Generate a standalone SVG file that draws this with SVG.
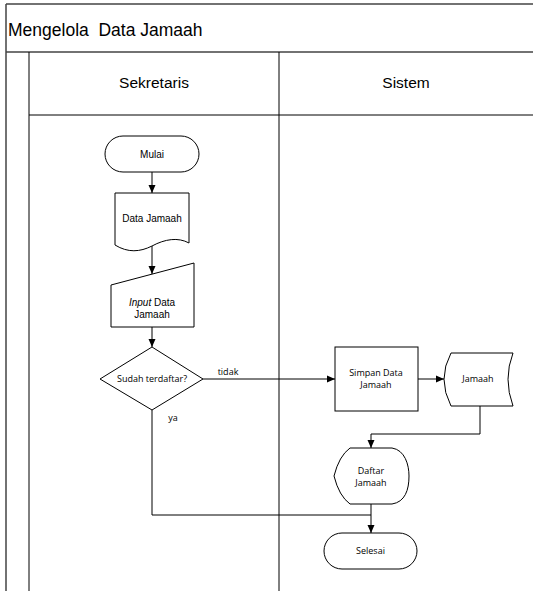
<svg xmlns="http://www.w3.org/2000/svg" width="533" height="591" viewBox="0 0 533 591">
<style>
.frame{stroke:#444;stroke-width:1.5;fill:none}
.lane{stroke:#000;stroke-width:1;fill:none}
.shape{fill:#fff;stroke:#000;stroke-width:1}
.conn{stroke:#000;stroke-width:1;fill:none}
.ta{font-family:"Liberation Sans",Arial,sans-serif;font-size:10px;fill:#000;text-anchor:middle}
.to{font-family:"Open Sans","Noto Sans",sans-serif;font-size:9px;fill:#000;text-anchor:middle}
.hd{font-family:"Liberation Sans",Arial,sans-serif;font-size:15.5px;fill:#000;text-anchor:middle}
</style>
<defs>
<marker id="arr" markerUnits="userSpaceOnUse" markerWidth="8" markerHeight="8" refX="8" refY="4" orient="auto">
<path d="M0,0.5 L8,4 L0,7.5 Z" fill="#000"/>
</marker>
</defs>
<rect width="533" height="591" fill="#fff"/>
<g id="pool">
<path class="frame" d="M6,4 H533 M6,4 V591 M6,52 H533"/>
<path class="lane" d="M29,52 V591 M29,115 H533 M279,52 V591"/>
<text x="8" y="36" font-family="Liberation Sans, Arial, sans-serif" font-size="17.5" fill="#000" xml:space="preserve">Mengelola  Data Jamaah</text>
<text class="hd" x="154" y="88">Sekretaris</text>
<text class="hd" x="406" y="88">Sistem</text>
</g>
<g id="connectors">
<path class="conn" d="M152,172 V193" marker-end="url(#arr)"/>
<path class="conn" d="M152,246 V274" marker-end="url(#arr)"/>
<path class="conn" d="M152,327 V347" marker-end="url(#arr)"/>
<path class="conn" d="M203,379 H335" marker-end="url(#arr)"/>
<path class="conn" d="M418,379 H444" marker-end="url(#arr)"/>
<path class="conn" d="M480,406 V434 H371 V448" marker-end="url(#arr)"/>
<path class="conn" d="M371,504 V533" marker-end="url(#arr)"/>
<path class="conn" d="M152,410 V515 H371"/>
<text class="to" x="228" y="375">tidak</text>
<text class="to" x="173" y="421">ya</text>
</g>
<g id="mulai">
<rect class="shape" x="105" y="136" width="94" height="36" rx="18"/>
<text class="ta" x="152" y="157.5" font-size="9.5">Mulai</text>
</g>
<g id="data-jamaah">
<path class="shape" d="M115,193 H189 V243 C178,237 165,239 152,246 C140,252 128,253 115,245 Z"/>
<text class="ta" x="152" y="222">Data Jamaah</text>
</g>
<g id="input-data">
<path class="shape" d="M111,285 L194,263 L194,327 L111,327 Z"/>
<text class="ta" x="152" y="306"><tspan font-style="italic">Input</tspan> Data</text>
<text class="ta" x="152" y="318">Jamaah</text>
</g>
<g id="sudah-terdaftar">
<path class="shape" d="M152,347 L203,379 L152,410 L100,379 Z"/>
<text class="to" x="152" y="382">Sudah terdaftar?</text>
</g>
<g id="simpan-data">
<rect class="shape" x="335" y="347" width="83" height="64"/>
<text class="to" x="376" y="376">Simpan Data</text>
<text class="to" x="376" y="388">Jamaah</text>
</g>
<g id="jamaah-store">
<path class="shape" d="M451,353 H513 Q503,379 513,406 H451 Q437,379 451,353 Z"/>
<text class="to" x="478" y="382">Jamaah</text>
</g>
<g id="daftar-jamaah">
<path class="shape" d="M334,476 Q339,456 350,448 H392 C405,450 409,465 409,476 C409,490 405,502 392,504 H350 Q339,496 334,476 Z"/>
<text class="to" x="371" y="474">Daftar</text>
<text class="to" x="371" y="486">Jamaah</text>
</g>
<g id="selesai">
<rect class="shape" x="324" y="533" width="93" height="36" rx="18"/>
<text class="to" x="370.5" y="554">Selesai</text>
</g>
</svg>
